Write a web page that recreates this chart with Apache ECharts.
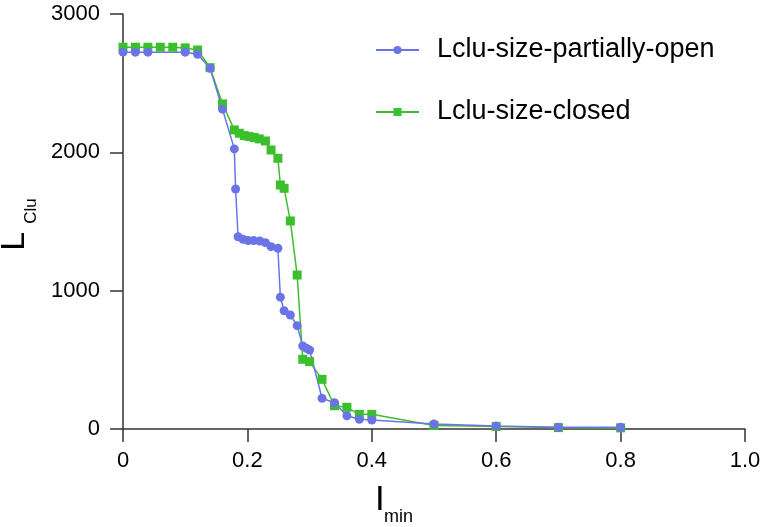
<!DOCTYPE html>
<html lang="en">
<head>
    <meta charset="UTF-8">
    <title>LClu vs Imin</title>
    <style>
        * {
            margin: 0;
            padding: 0;
        }
        body {
            background: #fff;
        }
        #chart {
            width: 765px;
            height: 527px;
        }
    </style>
    <script src="https://cdn.jsdelivr.net/npm/echarts@6/dist/echarts.min.js"></script>
</head>
<body>
    <div id="chart"></div>

    <script>
        // 数据
        const xOpen = [0, 0.02, 0.04, 0.1, 0.12, 0.14, 0.16, 0.179, 0.181, 0.185, 0.193, 0.201, 0.21, 0.22, 0.229, 0.238, 0.249, 0.253, 0.259, 0.269, 0.28, 0.289, 0.295, 0.3, 0.32, 0.34, 0.36, 0.38, 0.4, 0.5, 0.6, 0.7, 0.8];
        const yOpen = [2724, 2724, 2724, 2724, 2709, 2608, 2312, 2025, 1735, 1390, 1372, 1362, 1362, 1359, 1347, 1318, 1307, 953, 855, 824, 747, 600, 583, 571, 222, 190, 96, 70, 65, 36, 22, 12, 12];

        const xClosed = [0, 0.02, 0.04, 0.06, 0.08, 0.1, 0.12, 0.14, 0.16, 0.179, 0.187, 0.195, 0.203, 0.211, 0.219, 0.229, 0.238, 0.249, 0.253, 0.259, 0.269, 0.28, 0.289, 0.3, 0.32, 0.34, 0.36, 0.38, 0.4, 0.5, 0.6, 0.7, 0.8];
        const yClosed = [2760, 2760, 2760, 2760, 2760, 2755, 2740, 2612, 2350, 2162, 2138, 2121, 2114, 2107, 2097, 2082, 2017, 1957, 1764, 1740, 1504, 1113, 504, 487, 359, 168, 157, 106, 106, 25, 18, 10, 8];

        const seriesNames = ['Lclu-size-partially-open', 'Lclu-size-closed'];
        const xTickLabels = ['0', '0.2', '0.4', '0.6', '0.8', '1.0'];
        const yTickLabels = ['0', '1000', '2000', '3000'];

        const blue = '#6b74e6';
        const green = '#3cbf2c';
        const axisColor = '#333';
        const font = 'Liberation Sans, Arial, Helvetica, sans-serif';

        function zip(xs, ys) {
            return xs.map((x, i) => [x, ys[i]]);
        }

        const myChart = echarts.init(document.getElementById('chart'));

        const option = {
            animation: false,
            grid: {
                left: 123,
                right: 20,
                top: 14,
                bottom: 98,
                containLabel: false,
                outerBoundsMode: 'none'
            },
            legend: {
                data: seriesNames,
                orient: 'vertical',
                left: 370,
                top: 30,
                itemWidth: 43,
                itemHeight: 10,
                itemGap: 32,
                textStyle: {
                    fontFamily: font,
                    fontSize: 27,
                    color: '#000',
                    lineHeight: 30,
                    padding: [0, 0, 0, 13]
                }
            },
            xAxis: {
                type: 'value',
                min: 0,
                max: 1,
                interval: 0.2,
                splitLine: { show: false },
                axisLine: { onZero: false, lineStyle: { color: axisColor, width: 1.5 } },
                axisTick: { length: 13, lineStyle: { color: axisColor, width: 1.5 } },
                axisLabel: {
                    margin: 21,
                    fontFamily: font,
                    fontSize: 22,
                    color: '#000',
                    formatter: function (v) {
                        return xTickLabels[Math.round(v / 0.2)];
                    }
                }
            },
            yAxis: {
                type: 'value',
                min: 0,
                max: 3000,
                interval: 1000,
                // y 轴标题：L 加下标 Clu
                name: '{a|L}{b|Clu}',
                nameLocation: 'middle',
                nameRotate: 90,
                nameGap: 54,
                nameTextStyle: {
                    fontFamily: font,
                    color: '#000',
                    rich: {
                        a: { fontFamily: font, fontSize: 34, lineHeight: 34, color: '#000', verticalAlign: 'top' },
                        b: {
                            fontFamily: font, fontSize: 17, lineHeight: 69, color: '#000',
                            padding: [0, 6, 0, 8]
                        }
                    }
                },
                splitLine: { show: false },
                axisLine: { show: true, onZero: false, lineStyle: { color: axisColor, width: 1.5 } },
                axisTick: { show: true, length: 13, lineStyle: { color: axisColor, width: 1.5 } },
                axisLabel: {
                    margin: 23,
                    fontFamily: font,
                    fontSize: 22,
                    color: '#000',
                    formatter: function (v) {
                        return yTickLabels[Math.round(v / 1000)];
                    }
                }
            },
            // x 轴标题（带下标）
            graphic: [
                {
                    type: 'text',
                    x: 375,
                    y: 500,
                    style: { text: 'I', fontFamily: font, fontSize: 35, fill: '#000', verticalAlign: 'middle' }
                },
                {
                    type: 'text',
                    x: 384,
                    y: 517,
                    style: { text: 'min', fontFamily: font, fontSize: 18, fill: '#000', verticalAlign: 'middle' }
                }
            ],
            series: [
                {
                    name: seriesNames[1],
                    type: 'line',
                    data: zip(xClosed, yClosed),
                    symbol: 'rect',
                    symbolSize: 9,
                    showAllSymbol: true,
                    itemStyle: { color: green },
                    lineStyle: { color: green, width: 1.5 }
                },
                {
                    name: seriesNames[0],
                    type: 'line',
                    data: zip(xOpen, yOpen),
                    symbol: 'circle',
                    symbolSize: 9,
                    showAllSymbol: true,
                    itemStyle: { color: blue },
                    lineStyle: { color: blue, width: 1.5 }
                }
            ]
        };

        myChart.setOption(option);
    </script>
</body>
</html>
